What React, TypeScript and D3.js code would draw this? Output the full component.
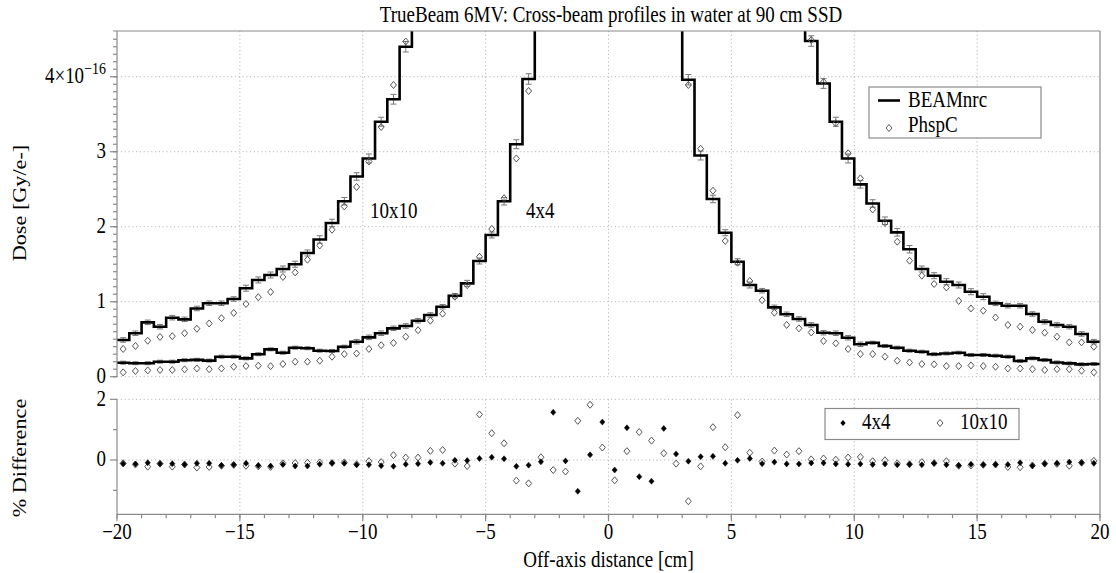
import React from 'react';
import * as d3 from 'd3';

// ---------- data ----------
const binCount = 80;
const binWidth = 0.5;
const xStart = -20;

const beam10 = [0.49,0.58,0.725,0.667,0.787,0.765,0.91,0.98,0.98,1.036,
 1.18,1.29,1.356,1.436,1.5,1.65,1.83,2.05,2.34,2.67,
 2.91,3.4,3.7,4.4,5.0,5.3,5.5,5.6,5.7,5.7,
 5.8,5.8,5.8,5.9,5.9,5.9,5.9,5.9,5.9,5.9,
 5.9,5.9,5.9,5.9,5.9,5.8,5.8,5.8,5.7,5.7,
 5.6,5.5,5.4,5.3,5.1,4.9,4.476,3.91,3.4,2.91,
 2.565,2.31,2.08,1.925,1.7,1.436,1.347,1.267,1.223,1.133,
 1.067,0.978,0.947,0.947,0.836,0.733,0.69,0.667,0.57,0.467];

const phsp10 = [0.37,0.41,0.48,0.53,0.54,0.58,0.64,0.71,0.78,0.85,
 0.97,1.06,1.13,1.33,1.39,1.56,1.75,1.96,2.27,2.53,
 2.87,3.33,3.89,4.47,5.0,5.3,5.5,5.6,5.7,5.7,
 5.8,5.8,5.8,5.9,5.9,5.9,5.9,5.9,5.9,5.9,
 5.9,5.9,5.9,5.9,5.9,5.8,5.8,5.8,5.7,5.7,
 5.6,5.5,5.4,5.3,5.1,4.9,4.49,3.93,3.38,2.98,
 2.645,2.23,2.05,1.8,1.547,1.347,1.236,1.19,1.01,0.91,
 0.88,0.79,0.69,0.667,0.623,0.587,0.533,0.458,0.458,0.4];

const beam4 = [0.187,0.18,0.18,0.2,0.2,0.22,0.225,0.215,0.267,0.267,
 0.245,0.3,0.365,0.32,0.387,0.38,0.347,0.343,0.4,0.467,
 0.525,0.58,0.645,0.676,0.747,0.823,0.933,1.08,1.245,1.543,
 1.89,2.34,3.1,3.97,5.6,7.0,7.8,8.2,8.4,8.5,
 8.5,8.4,8.2,7.8,7.0,5.6,3.96,2.95,2.37,1.92,
 1.533,1.223,1.147,0.925,0.832,0.77,0.69,0.587,0.58,0.52,
 0.432,0.453,0.41,0.387,0.347,0.333,0.3,0.31,0.32,0.29,
 0.29,0.28,0.267,0.21,0.245,0.223,0.19,0.178,0.165,0.17];

const phsp4 = [0.058,0.076,0.084,0.089,0.089,0.098,0.11,0.1,0.11,0.133,
 0.142,0.147,0.14,0.169,0.2,0.2,0.213,0.267,0.302,0.31,
 0.37,0.42,0.45,0.533,0.62,0.747,0.84,1.067,1.22,1.6,
 1.97,2.38,2.91,3.81,5.5,6.9,7.7,8.1,8.3,8.4,
 8.4,8.3,8.1,7.7,6.9,5.5,3.89,3.04,2.48,1.81,
 1.52,1.276,1.02,0.853,0.69,0.645,0.59,0.476,0.445,0.37,
 0.302,0.302,0.267,0.213,0.19,0.169,0.165,0.142,0.142,0.15,
 0.142,0.133,0.11,0.11,0.1,0.089,0.1,0.1,0.08,0.058];

const err10 = [0.03,0.03,0.03,0.03,0.03,0.03,0.03,0.03,0.03,0.03,
 0.04,0.04,0.04,0.04,0.04,0.04,0.05,0.05,0.05,0.05,
 0.06,0.06,0.065,0.07,0.08,0.08,0.08,0.08,0.08,0.08,
 0.08,0.08,0.08,0.08,0.08,0.08,0.08,0.08,0.08,0.08,
 0.08,0.08,0.08,0.08,0.08,0.08,0.08,0.08,0.08,0.08,
 0.08,0.08,0.08,0.08,0.08,0.08,0.07,0.065,0.06,0.06,
 0.05,0.05,0.05,0.05,0.05,0.04,0.04,0.04,0.04,0.04,
 0.04,0.03,0.03,0.03,0.03,0.03,0.03,0.03,0.03,0.03];

const err4 = [0.02,0.02,0.02,0.02,0.02,0.02,0.02,0.02,0.02,0.02,
 0.02,0.02,0.02,0.02,0.02,0.02,0.02,0.02,0.02,0.03,
 0.03,0.03,0.03,0.03,0.03,0.03,0.03,0.03,0.04,0.04,
 0.04,0.05,0.06,0.07,0.08,0.08,0.08,0.08,0.08,0.08,
 0.08,0.08,0.08,0.08,0.08,0.08,0.07,0.06,0.05,0.04,
 0.04,0.04,0.03,0.03,0.03,0.03,0.03,0.03,0.03,0.03,
 0.03,0.02,0.02,0.02,0.02,0.02,0.02,0.02,0.02,0.02,
 0.02,0.02,0.02,0.02,0.02,0.02,0.02,0.02,0.02,0.02];

const diff4 = [-0.12,-0.13,-0.09,-0.12,-0.12,-0.15,-0.11,-0.11,-0.18,-0.16,
 -0.11,-0.18,-0.2,-0.15,-0.2,-0.2,-0.14,-0.1,-0.11,-0.16,
 -0.16,-0.19,-0.21,-0.14,-0.12,-0.08,-0.11,-0.01,-0.02,0.05,
 0.09,0.04,-0.21,-0.17,-0.06,1.57,-0.03,-1.03,0.17,1.25,
 -0.33,1.06,-0.55,-0.7,1.04,0.2,-0.04,0.11,0.12,-0.11,
 -0.01,0.05,-0.12,-0.07,-0.13,-0.13,-0.1,-0.1,-0.13,-0.14,
 -0.13,-0.15,-0.13,-0.16,-0.14,-0.16,-0.11,-0.16,-0.18,-0.14,
 -0.16,-0.15,-0.15,-0.09,-0.19,-0.12,-0.11,-0.07,-0.09,-0.11];

const diff10 = [-0.11,-0.15,-0.22,-0.12,-0.22,-0.15,-0.25,-0.23,-0.19,-0.16,
 -0.19,-0.21,-0.23,-0.11,-0.1,-0.09,-0.08,-0.1,-0.08,-0.14,
 -0.04,-0.07,0.16,0.08,0.08,0.3,0.33,-0.12,-0.2,1.5,
 0.88,0.55,-0.68,-0.77,0.09,-0.33,-0.38,1.29,1.82,0.41,
 -0.67,0.29,0.92,0.64,0.22,-0.12,-1.36,-0.21,1.08,0.42,
 1.48,0.24,-0.05,0.31,0.18,0.29,0.02,0.05,0.01,0.08,
 0.1,-0.04,-0.01,-0.11,-0.14,-0.07,-0.1,-0.04,-0.19,-0.18,
 -0.16,-0.15,-0.23,-0.24,-0.18,-0.12,-0.13,-0.19,-0.09,-0.03];

const xTicksMajor = [-20, -15, -10, -5, 0, 5, 10, 15, 20];
const xTickLabels = ['\u221220', '\u221215', '\u221210', '\u22125', '0', '5', '10', '15', '20'];
const yTopMajor = [0, 1, 2, 3, 4];
const yBotMajor = [0, 2];
const yBotMinor = [-1, 1];

const title = 'TrueBeam 6MV: Cross-beam profiles in water at 90 cm SSD';

// ---------- layout ----------
const W = 1116, H = 573;
const L = 117, R = 1100;
const TOP1 = 31, BOT1 = 376.7;
const TOP2 = 399.3, BOT2 = 514.3;
const SY = 1.17; // vertical text stretch
const FS = 19;
const FONT = '"Liberation Serif", "Times New Roman", serif';
const GRID = '#b8b8b8';
const AXIS = '#8a8a8a';

const x = d3.scaleLinear().domain([-20, 20]).range([L, R]);
const yT = d3.scaleLinear().domain([0, 4.61]).range([BOT1, TOP1]);
const yB = d3.scaleLinear().domain([-1.79, 2]).range([BOT2, TOP2]);

const centers = d3.range(binCount).map(k => xStart + binWidth * (k + 0.5));

function stepPath(vals: number[]) {
  const pts: [number, number][] = [];
  vals.forEach((v, k) => {
    const x0 = xStart + k * binWidth;
    pts.push([x(x0), yT(v)]);
    pts.push([x(x0 + binWidth), yT(v)]);
  });
  return d3.line()(pts) || '';
}

const diamond = (rx: number, ry: number) => `M0,${-ry}L${rx},0L0,${ry}L${-rx},0Z`;

const T = ({ x, y, anchor = 'start', size = FS, rot = 0, children }: any) => (
  <text
    transform={`translate(${x},${y}) scale(1,${SY})${rot ? ` rotate(${rot})` : ''}`}
    textAnchor={anchor}
    fontSize={size}
    fontFamily={FONT}
    fill="#000"
  >
    {children}
  </text>
);

export default function App() {
  const xMinor = d3.range(-20, 21, 1);
  const yTopMinor = d3.range(0, 46).map(i => i / 10).filter(v => v <= 4.61);

  const errBars = (vals: number[], errs: number[]) =>
    vals.map((v, k) => {
      const cx = x(centers[k]);
      const y1 = yT(v + errs[k]);
      const y2 = yT(v - errs[k]);
      return (
        <g key={k} stroke="#777" strokeWidth={1}>
          <line x1={cx} x2={cx} y1={y1} y2={y2} />
          <line x1={cx - 3} x2={cx + 3} y1={y1} y2={y1} />
          <line x1={cx - 3} x2={cx + 3} y1={y2} y2={y2} />
        </g>
      );
    });

  return (
    <svg width={W} height={H} style={{ position: 'absolute', left: 0, top: 0, background: '#fff' }}>
      <defs>
        <clipPath id="clipTop"><rect x={L} y={TOP1} width={R - L} height={BOT1 - TOP1} /></clipPath>
        <clipPath id="clipBot"><rect x={L} y={TOP2 - 5} width={R - L} height={BOT2 - TOP2 + 5} /></clipPath>
      </defs>
      <rect x={0} y={0} width={W} height={H} fill="#fff" />

      {/* grids top */}
      <g stroke={GRID} strokeWidth={1} strokeDasharray="1.2 2.6">
        {xTicksMajor.slice(1, -1).map(t => (
          <line key={'gvt' + t} x1={x(t)} x2={x(t)} y1={TOP1} y2={BOT1} />
        ))}
        {yTopMajor.map(t => (
          <line key={'ght' + t} x1={L} x2={R} y1={yT(t)} y2={yT(t)} />
        ))}
        {xTicksMajor.slice(1, -1).map(t => (
          <line key={'gvb' + t} x1={x(t)} x2={x(t)} y1={TOP2} y2={BOT2} />
        ))}
        {yBotMajor.map(t => (
          <line key={'ghb' + t} x1={L} x2={R} y1={yB(t)} y2={yB(t)} />
        ))}
      </g>

      {/* top panel data */}
      <g clipPath="url(#clipTop)">
        {errBars(beam10, err10)}
        {errBars(beam4, err4)}
        <path d={stepPath(beam10)} fill="none" stroke="#000" strokeWidth={2.6} strokeLinejoin="miter" />
        <path d={stepPath(beam4)} fill="none" stroke="#000" strokeWidth={2.6} strokeLinejoin="miter" />
        {phsp10.map((v, k) => (
          <path key={'p10' + k} d={diamond(3, 3.5)} transform={`translate(${x(centers[k])},${yT(v)})`}
            fill="none" stroke="#555" strokeWidth={1} />
        ))}
        {phsp4.map((v, k) => (
          <path key={'p4' + k} d={diamond(3, 3.5)} transform={`translate(${x(centers[k])},${yT(v)})`}
            fill="none" stroke="#555" strokeWidth={1} />
        ))}
      </g>

      {/* bottom panel data */}
      <g clipPath="url(#clipBot)">
        {diff10.map((v, k) => (
          <path key={'d10' + k} d={diamond(3, 3.5)} transform={`translate(${x(centers[k])},${yB(v)})`}
            fill="none" stroke="#555" strokeWidth={1} />
        ))}
        {diff4.map((v, k) => (
          <path key={'d4' + k} d={diamond(2.6, 3)} transform={`translate(${x(centers[k])},${yB(v)})`}
            fill="#000" stroke="#000" strokeWidth={0.5} />
        ))}
      </g>

      {/* frame and axes */}
      <g stroke={AXIS} strokeWidth={1.2} fill="none">
        <line x1={L - 4} x2={R} y1={TOP1} y2={TOP1} />
        <line x1={R} x2={R} y1={TOP1} y2={BOT2} />
        <line x1={L} x2={L} y1={TOP1} y2={BOT1} />
        <line x1={L} x2={L} y1={TOP2} y2={BOT2} />
        <line x1={L} x2={R} y1={BOT2} y2={BOT2} />
        {yTopMinor.map(v => (
          <line key={'ytm' + v} x1={L - 4} x2={L} y1={yT(v)} y2={yT(v)} />
        ))}
        {yTopMajor.map(v => (
          <line key={'ytM' + v} x1={L - 7} x2={L} y1={yT(v)} y2={yT(v)} />
        ))}
        {yBotMinor.map(v => (
          <line key={'ybm' + v} x1={L - 4} x2={L} y1={yB(v)} y2={yB(v)} />
        ))}
        {yBotMajor.map(v => (
          <line key={'ybM' + v} x1={L - 7} x2={L} y1={yB(v)} y2={yB(v)} />
        ))}
        {xMinor.map(v => (
          <line key={'xm' + v} x1={x(v)} x2={x(v)} y1={BOT2} y2={BOT2 + 4} />
        ))}
        {xTicksMajor.map(v => (
          <line key={'xM' + v} x1={x(v)} x2={x(v)} y1={BOT2} y2={BOT2 + 7} />
        ))}
      </g>

      {/* tick labels */}
      {xTicksMajor.map((v, i) => (
        <T key={'xl' + v} x={x(v)} y={539} anchor="middle">{xTickLabels[i]}</T>
      ))}
      {yTopMajor.slice(0, 4).map(v => (
        <T key={'yl' + v} x={106} y={yT(v) + 6.5} anchor="end">{String(v)}</T>
      ))}
      <text transform={`translate(106,${yT(4) + 6.5}) scale(1,${SY})`} textAnchor="end" fontSize={FS} fontFamily={FONT}>
        4×10<tspan fontSize={14} dy={-8}>−16</tspan>
      </text>
      {yBotMajor.map(v => (
        <T key={'ybl' + v} x={106} y={yB(v) + 6.5} anchor="end">{String(v)}</T>
      ))}

      {/* titles */}
      <T x={611} y={22} anchor="middle">{title}</T>
      <T x={608.5} y={567} anchor="middle">Off-axis distance [cm]</T>
      <T x={26} y={203} anchor="middle" rot={-90}>Dose [Gy/e-]</T>
      <T x={26} y={458} anchor="middle" rot={-90}>% Difference</T>

      {/* curve labels */}
      <T x={370} y={218}>10x10</T>
      <T x={526} y={218}>4x4</T>

      {/* top legend */}
      <rect x={869} y={87} width={172} height={51} fill="#fff" stroke={AXIS} strokeWidth={1.2} />
      <line x1={878} x2={900} y1={100.5} y2={100.5} stroke="#000" strokeWidth={2.6} />
      <T x={908} y={107}>BEAMnrc</T>
      <path d={diamond(3, 3.5)} transform="translate(889,128)" fill="none" stroke="#555" />
      <T x={908} y={132}>PhspC</T>

      {/* bottom legend */}
      <rect x={825} y={408.5} width={194} height={31} fill="#fff" stroke={AXIS} strokeWidth={1.2} />
      <path d={diamond(2.6, 3)} transform="translate(843,423)" fill="#000" />
      <T x={862} y={429}>4x4</T>
      <path d={diamond(3, 3.5)} transform="translate(940,423)" fill="none" stroke="#555" />
      <T x={960} y={429}>10x10</T>
    </svg>
  );
}
